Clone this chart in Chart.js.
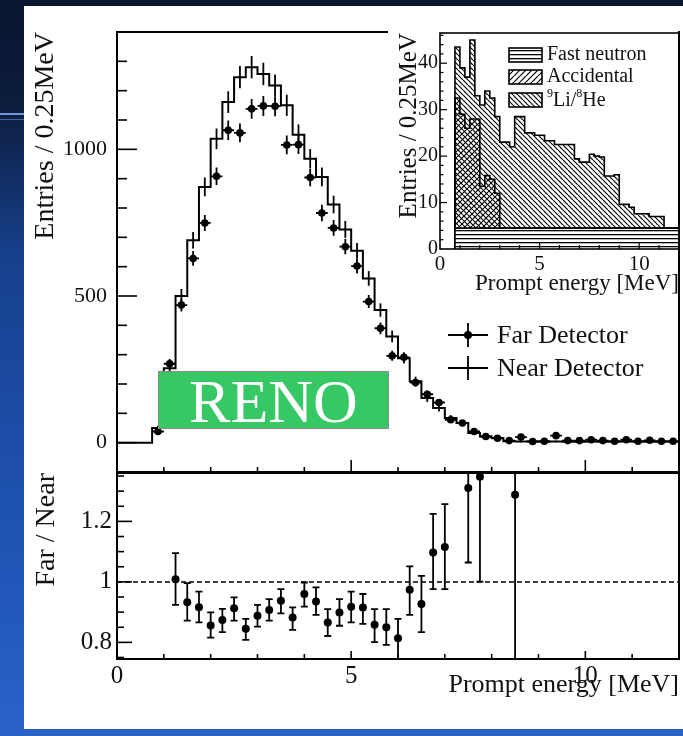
<!DOCTYPE html>
<html>
<head>
<meta charset="utf-8">
<script src="https://cdn.jsdelivr.net/npm/chart.js@4"></script>
<style>
  html, body { margin: 0; padding: 0; }
  body {
    width: 683px; height: 736px; position: relative; overflow: hidden;
    background: linear-gradient(180deg, #0a1530 0px, #0c1c3c 100px, #17418e 260px, #1f52b2 520px, #2a62c8 736px);
  }
  #panel { position: absolute; left: 24px; top: 6px; width: 659px; height: 723px; background: #fff; }
  .deco { position: absolute; left: 0; width: 24px; background: #6f96d8; }
  canvas { position: absolute; }
  #cMain { left: 0; top: 0; }
  #cRatio { left: 0; top: 440px; }
  #cInset { left: 388px; top: 10px; }
  #reno {
    position: absolute; left: 158px; top: 371px; width: 231px; height: 58px;
    background: #37c866; border: 1px solid #8c8c8c; box-sizing: border-box;
    color: #fff; font: 62px "Liberation Serif", "Times New Roman", serif;
    text-align: center; line-height: 58px;
  }
</style>
</head>
<body>
<div class="deco" style="top:113px;height:2px"></div>
<div class="deco" style="top:119px;height:1px;opacity:0.6"></div>
<div id="panel"></div>
<canvas id="cMain" width="683" height="510"></canvas>
<canvas id="cRatio" width="683" height="296"></canvas>
<canvas id="cInset" width="295" height="290"></canvas>
<div id="reno">RENO</div>
<script>
// ---- data ----
// prompt energy bin centres [MeV], 0.25 MeV bins
const binCenters = [0.875, 1.125, 1.375, 1.625, 1.875, 2.125, 2.375, 2.625, 2.875, 3.125,
  3.375, 3.625, 3.875, 4.125, 4.375, 4.625, 4.875, 5.125, 5.375, 5.625,
  5.875, 6.125, 6.375, 6.625, 6.875, 7.125, 7.375, 7.625, 7.875, 8.125,
  8.375, 8.625, 8.875, 9.125, 9.375, 9.625, 9.875, 10.125, 10.375, 10.625,
  10.875, 11.125, 11.375, 11.625, 11.875];

const farCounts = [38, 269, 469, 628, 749, 908, 1065, 1056, 1138, 1148,
  1147, 1015, 1016, 904, 783, 732, 668, 602, 481, 390,
  296, 291, 205, 165, 137, 78, 67, 38, 21, 15,
  7, 19, 4, 5, 24, 7, 7, 10, 7, 5,
  10, 5, 8, 5, 5];
const farErr = [6, 16, 22, 25, 27, 30, 33, 32, 34, 34,
  34, 32, 32, 30, 28, 27, 26, 25, 22, 20,
  17, 17, 14, 13, 12, 9, 8, 6, 5, 4,
  3, 4, 2, 2, 5, 3, 3, 3, 3, 2,
  3, 2, 3, 2, 2];

const nearCounts = [50, 254, 500, 690, 872, 1036, 1161, 1246, 1280, 1257,
  1218, 1150, 1050, 968, 906, 812, 727, 654, 560, 452,
  362, 288, 209, 152, 118, 84, 67, 33, 21, 16,
  5, 4, 4, 3, 4, 3, 3, 4, 3, 3,
  4, 3, 3, 3, 3];
const nearErr = [8, 17, 24, 28, 32, 35, 37, 38, 38, 38,
  37, 36, 35, 33, 32, 30, 29, 27, 25, 23,
  20, 18, 16, 13, 12, 10, 9, 7, 6, 5,
  3, 3, 3, 3, 3, 3, 3, 3, 3, 3,
  3, 3, 3, 3, 3];

// Far / Near ratio
const ratioCenters = [1.25, 1.5, 1.75, 2, 2.25, 2.5, 2.75, 3, 3.25, 3.5,
  3.75, 4, 4.25, 4.5, 4.75, 5, 5.25, 5.5, 5.75, 6,
  6.25, 6.5, 6.75, 7, 7.25, 7.5, 7.75, 8, 8.25, 8.5];
const ratioValues = [1.009, 0.933, 0.916, 0.856, 0.874, 0.913, 0.845, 0.888, 0.907, 0.938,
  0.882, 0.960, 0.935, 0.866, 0.899, 0.918, 0.915, 0.858, 0.850, 0.814,
  0.974, 0.927, 1.097, 1.115, null, 1.31, 1.348, null, null, 1.288];
const ratioErrUp = [0.086, 0.063, 0.052, 0.043, 0.037, 0.036, 0.033, 0.036, 0.036, 0.038,
  0.034, 0.038, 0.047, 0.044, 0.044, 0.050, 0.045, 0.052, 0.060, 0.064,
  0.077, 0.093, 0.128, 0.142, null, 0.25, 0.25, null, null, 1.0];
const ratioErrDown = [0.085, 0.061, 0.050, 0.040, 0.040, 0.041, 0.037, 0.036, 0.035, 0.042,
  0.041, 0.042, 0.044, 0.045, 0.044, 0.052, 0.054, 0.057, 0.058, 0.075,
  0.083, 0.093, 0.121, 0.139, null, 0.246, 0.347, null, null, 1.0];

// inset: backgrounds, stacked
const fastNeutron = [4.5, 4.5, 4.5, 4.5, 4.5, 4.5, 4.5, 4.5, 4.5, 4.5,
  4.5, 4.5, 4.5, 4.5, 4.5, 4.5, 4.5, 4.5, 4.5, 4.5,
  4.5, 4.5, 4.5, 4.5, 4.5, 4.5, 4.5, 4.5, 4.5, 4.5,
  4.5, 4.5, 4.5, 4.5, 4.5, 4.5, 4.5, 4.5, 4.5, 4.5,
  4.5, 4.5, 4.5, 4.5, 4.5];
const accidental = [28, 24.5, 21.5, 23.5, 23.5, 9, 11.3, 10.5, 7.5, 0,
  0, 0, 0, 0, 0, 0, 0, 0, 0, 0,
  0, 0, 0, 0, 0, 0, 0, 0, 0, 0,
  0, 0, 0, 0, 0, 0, 0, 0, 0, 0,
  0, 0, 0, 0, 0];
const liHe = [11, 10, 11, 17, 5, 17.5, 18.2, 17.5, 16.5, 18.5,
  18.5, 17.5, 24, 24, 20.5, 20.5, 20, 20, 18.8, 18.8,
  18, 18, 18, 18, 14.9, 14.2, 14.2, 15.9, 15.5, 15.3,
  11.2, 11.2, 11.5, 5.1, 5.1, 4.5, 3.1, 3.1, 3.1, 2.5,
  2.5, 2.5, 0, 0, 0];

// tick labels
const mainYTicks = [0, 500, 1000];
const ratioYTicks = [0.8, 1, 1.2];
const energyTicks = [0, 5, 10];
const insetYTicks = [0, 10, 20, 30, 40];

// ---- helpers ----
const FONT = '"Liberation Serif", "Times New Roman", serif';
const HALF = 0.125;

// histogram outline through the bin edges; 'before' stepping = horizontal first
function stepLine(values, opts) {
  const pts = [];
  if (opts.fromAxis) pts.push({x: 0, y: 0});
  pts.push({x: binCenters[0] - HALF, y: 0});
  values.forEach((v, i) => pts.push({x: binCenters[i] - HALF, y: v}));
  const lastEdge = binCenters[binCenters.length - 1] + HALF;
  pts.push({x: lastEdge, y: values[values.length - 1]});
  if (opts.close) pts.push({x: lastEdge, y: 0});
  return pts;
}

function hatch(kind) {
  const c = document.createElement('canvas');
  const s = kind === 'h' ? 4 : (kind === 'f' ? 6 : 5);
  c.width = s; c.height = s;
  const g = c.getContext('2d');
  if (kind === 'h') {
    g.fillStyle = '#fff'; g.fillRect(0, 0, s, s);
    g.fillStyle = '#000'; g.fillRect(0, 0, s, 1.3);
  } else {
    g.strokeStyle = '#000'; g.lineWidth = 1.2;
    g.beginPath();
    for (let k = -s; k <= s; k += s) {
      if (kind === 'f') { g.moveTo(k, s); g.lineTo(k + s, 0); }
      else { g.moveTo(k, 0); g.lineTo(k + s, s); }
    }
    g.stroke();
  }
  return g.createPattern(c, 'repeat');
}
const patH = hatch('h'), patF = hatch('f'), patB = hatch('b');

const framePlugin = {
  id: 'frame',
  afterDatasetsDraw(chart, args, opts) {
    const {ctx, chartArea: a, scales} = chart;
    ctx.save();
    ctx.strokeStyle = '#000';
    (opts.ticks || []).forEach(t => {
      const s = scales[t.axis];
      ctx.lineWidth = opts.tlw || 1.5;
      const n0 = Math.ceil(t.from / t.step - 1e-6), n1 = Math.floor(t.to / t.step + 1e-6);
      for (let n = n0; n <= n1; n++) {
        const v = n * t.step;
        const r = v / t.major;
        const len = Math.abs(r - Math.round(r)) < 1e-6 ? t.majorLen : t.len;
        const p = s.getPixelForValue(v);
        ctx.beginPath();
        if (t.axis === 'y') { ctx.moveTo(a.left, p); ctx.lineTo(a.left + len, p); }
        else { ctx.moveTo(p, a.bottom); ctx.lineTo(p, a.bottom - len); }
        ctx.stroke();
      }
    });
    ctx.lineWidth = opts.lw || 2;
    ctx.strokeRect(a.left, a.top, a.right - a.left, a.bottom - a.top);
    ctx.restore();
  }
};

const errPlugin = {
  id: 'errbars',
  beforeDatasetsDraw(chart) {
    const {ctx, chartArea: a, scales: {x, y}} = chart;
    ctx.save();
    ctx.beginPath(); ctx.rect(a.left, a.top, a.right - a.left, a.bottom - a.top); ctx.clip();
    chart.data.datasets.forEach(ds => {
      if (!ds.err) return;
      ctx.strokeStyle = '#000'; ctx.lineWidth = ds.err.lw || 1.5;
      ds.data.forEach(p => {
        if (p.y == null) return;
        const px = x.getPixelForValue(p.x), py = y.getPixelForValue(p.y);
        const top = y.getPixelForValue(p.y + p.eUp), bot = y.getPixelForValue(p.y - p.eDn);
        ctx.beginPath();
        ctx.moveTo(px, top); ctx.lineTo(px, bot);
        if (ds.err.xHalf) {
          ctx.moveTo(x.getPixelForValue(p.x - ds.err.xHalf), py);
          ctx.lineTo(x.getPixelForValue(p.x + ds.err.xHalf), py);
        }
        if (ds.err.cap) {
          const c = ds.err.cap;
          ctx.moveTo(px - c, top); ctx.lineTo(px + c, top);
          ctx.moveTo(px - c, bot); ctx.lineTo(px + c, bot);
        }
        ctx.stroke();
      });
    });
    ctx.restore();
  }
};

const mainLegend = {
  id: 'mainLegend',
  afterDraw(chart) {
    const ctx = chart.ctx;
    ctx.save();
    ctx.strokeStyle = '#000'; ctx.fillStyle = '#000'; ctx.lineWidth = 1.8;
    [[335, true], [368, false]].forEach(([yy, dot]) => {
      ctx.beginPath();
      ctx.moveTo(448, yy); ctx.lineTo(488, yy);
      ctx.moveTo(468, yy - 12); ctx.lineTo(468, yy + 12);
      ctx.stroke();
      if (dot) { ctx.beginPath(); ctx.arc(468, yy, 4, 0, Math.PI * 2); ctx.fill(); }
    });
    ctx.font = '26px ' + FONT;
    ctx.textBaseline = 'middle';
    ctx.fillStyle = '#111';
    ctx.fillText('Far Detector', 497, 336);
    ctx.fillText('Near Detector', 497, 369);
    ctx.restore();
  }
};

const insetBg = {
  id: 'insetBg',
  beforeDraw(chart) {
    const ctx = chart.ctx;
    ctx.save(); ctx.fillStyle = '#fff'; ctx.fillRect(0, 0, 290, chart.height); ctx.restore();
  },
  afterDraw(chart) {
    const ctx = chart.ctx;
    ctx.save();
    const rows = [[patH, 48], [patF, 70], [patB, 93]];
    rows.forEach(([p, top]) => {
      ctx.fillStyle = '#fff'; ctx.fillRect(121, top - 10, 33, 14);
      ctx.fillStyle = p; ctx.fillRect(121, top - 10, 33, 14);
      ctx.strokeStyle = '#000'; ctx.lineWidth = 1.6; ctx.strokeRect(121, top - 10, 33, 14);
    });
    ctx.fillStyle = '#111'; ctx.textBaseline = 'middle';
    ctx.font = '20px ' + FONT;
    ctx.fillText('Fast neutron', 159, 45);
    ctx.fillText('Accidental', 159, 67);
    let xx = 159;
    ctx.font = '12px ' + FONT; ctx.fillText('9', xx, 84); xx += ctx.measureText('9').width;
    ctx.font = '20px ' + FONT; ctx.fillText('Li/', xx, 91); xx += ctx.measureText('Li/').width;
    ctx.font = '12px ' + FONT; ctx.fillText('8', xx, 84); xx += ctx.measureText('8').width;
    ctx.font = '20px ' + FONT; ctx.fillText('He', xx, 91);
    ctx.restore();
  }
};

function axisCommon(extra) {
  return Object.assign({
    type: 'linear',
    grid: {display: false, drawTicks: false},
    border: {display: false},
  }, extra);
}
const fixTicks = list => s => { s.ticks = list.map(v => ({value: v})); };

// ---- upper panel ----
new Chart(document.getElementById('cMain'), {
  type: 'scatter',
  data: {
    datasets: [
      {
        label: 'Near Detector', data: stepLine(nearCounts, {fromAxis: true, close: false}),
        showLine: true, stepped: 'before', borderColor: '#000', borderWidth: 2, pointRadius: 0
      },
      {
        label: 'Near errors',
        data: binCenters.map((c, i) => ({x: c, y: nearCounts[i], eUp: nearErr[i], eDn: nearErr[i]})),
        pointRadius: 0, err: {lw: 1.8}
      },
      {
        label: 'Far Detector',
        data: binCenters.map((c, i) => ({x: c, y: farCounts[i], eUp: farErr[i], eDn: farErr[i]})),
        pointRadius: 3.8, pointBackgroundColor: '#000', pointBorderColor: '#000', borderWidth: 0,
        err: {lw: 1.8, xHalf: HALF}
      }
    ]
  },
  options: {
    responsive: false, animation: false,
    layout: {padding: {top: 32, right: 3, bottom: 38, left: 0}},
    plugins: {
      legend: {display: false}, tooltip: {enabled: false},
      frame: {lw: 2, tlw: 1.6, ticks: [
        {axis: 'y', from: 0, to: 1300, step: 100, major: 500, len: 10, majorLen: 20},
        {axis: 'x', from: 1, to: 11, step: 1, major: 5, len: 5, majorLen: 12}
      ]}
    },
    scales: {
      x: axisCommon({min: 0, max: 12, display: false}),
      y: axisCommon({
        min: -100, max: 1400,
        afterFit: s => { s.width = 117; },
        afterBuildTicks: fixTicks(mainYTicks),
        ticks: {padding: 10, color: '#111', font: {family: FONT, size: 22}, callback: v => String(v)},
        title: {display: true, text: 'Entries / 0.25MeV', align: 'end', color: '#111',
          font: {family: FONT, size: 28}, padding: {top: 29, bottom: 0}}
      })
    }
  },
  plugins: [errPlugin, framePlugin, mainLegend]
});

// ---- ratio panel ----
new Chart(document.getElementById('cRatio'), {
  type: 'scatter',
  data: {
    datasets: [
      {
        label: 'unity', data: [{x: 0, y: 1}, {x: 12, y: 1}],
        showLine: true, borderColor: '#000', borderWidth: 1.5, borderDash: [5, 3], pointRadius: 0
      },
      {
        label: 'Far / Near',
        data: ratioCenters.map((c, i) => ({x: c, y: ratioValues[i], eUp: ratioErrUp[i], eDn: ratioErrDown[i]})),
        pointRadius: 4, pointBackgroundColor: '#000', pointBorderColor: '#000', borderWidth: 0,
        err: {lw: 1.8, cap: 3.5}
      }
    ]
  },
  options: {
    responsive: false, animation: false,
    layout: {padding: {top: 33, right: 3, bottom: 35, left: 0}},
    plugins: {
      legend: {display: false}, tooltip: {enabled: false},
      frame: {lw: 2, tlw: 1.6, ticks: [
        {axis: 'y', from: 0.75, to: 1.35, step: 0.05, major: 0.2, len: 7, majorLen: 15},
        {axis: 'x', from: 1, to: 11, step: 1, major: 5, len: 5, majorLen: 8}
      ]}
    },
    scales: {
      x: axisCommon({
        min: 0, max: 12,
        afterFit: s => { s.height = 42; },
        afterBuildTicks: fixTicks(energyTicks),
        ticks: {padding: 2, maxRotation: 0, autoSkip: false, color: '#111', font: {family: FONT, size: 25}, callback: v => String(v)},
        title: {display: true, text: 'Prompt energy [MeV]', align: 'end', color: '#111',
          font: {family: FONT, size: 26}, padding: {top: 0, bottom: 0}}
      }),
      y: axisCommon({
        min: 0.745, max: 1.36,
        afterFit: s => { s.width = 117; },
        afterBuildTicks: fixTicks(ratioYTicks),
        ticks: {padding: 5, color: '#111', font: {family: FONT, size: 25}, callback: v => String(v)},
        title: {display: true, text: 'Far / Near', align: 'end', color: '#111',
          font: {family: FONT, size: 28}, padding: {top: 30, bottom: 0}}
      })
    }
  },
  plugins: [errPlugin, framePlugin]
});

// ---- inset ----
const accTotal = fastNeutron.map((v, i) => v + accidental[i]);
const liTotal = accTotal.map((v, i) => v + liHe[i]);
const insetStep = v => stepLine(v, {fromAxis: false, close: true});

new Chart(document.getElementById('cInset'), {
  type: 'scatter',
  data: {
    datasets: [
      {label: '9Li/8He', data: insetStep(liTotal), showLine: true, stepped: 'before', fill: 'origin',
        backgroundColor: patB, borderColor: '#000', borderWidth: 1.6, pointRadius: 0, order: 3},
      {label: 'Accidental', data: insetStep(accTotal), showLine: true, stepped: 'before', fill: 'origin',
        backgroundColor: patF, borderColor: '#000', borderWidth: 1.6, pointRadius: 0, order: 2},
      {label: 'Fast neutron', data: insetStep(fastNeutron), showLine: true, stepped: 'before', fill: 'origin',
        backgroundColor: patH, borderColor: '#000', borderWidth: 1.6, pointRadius: 0, order: 1}
    ]
  },
  options: {
    responsive: false, animation: false,
    layout: {padding: {top: 23, right: 4, bottom: 1, left: 0}},
    plugins: {
      legend: {display: false}, tooltip: {enabled: false},
      frame: {lw: 1.6, tlw: 1.2, ticks: [
        {axis: 'y', from: 2, to: 46, step: 2, major: 10, len: 3.5, majorLen: 7},
        {axis: 'x', from: 1, to: 11, step: 1, major: 5, len: 4, majorLen: 7}
      ]}
    },
    scales: {
      x: axisCommon({
        min: 0, max: 12,
        afterFit: s => { s.height = 50; },
        afterBuildTicks: fixTicks(energyTicks),
        ticks: {padding: 3, maxRotation: 0, autoSkip: false, color: '#111', font: {family: FONT, size: 21}, callback: v => String(v)},
        title: {display: true, text: 'Prompt energy [MeV]', align: 'end', color: '#111',
          font: {family: FONT, size: 23}, padding: {top: 0, bottom: 1}}
      }),
      y: axisCommon({
        min: 0, max: 46.5,
        afterFit: s => { s.width = 52; },
        afterBuildTicks: fixTicks(insetYTicks),
        ticks: {padding: 2, color: '#111', font: {family: FONT, size: 20}, callback: v => String(v)},
        title: {display: true, text: 'Entries / 0.25MeV', align: 'end', color: '#111',
          font: {family: FONT, size: 25}, padding: {top: 6, bottom: 0}}
      })
    }
  },
  plugins: [insetBg, framePlugin]
});
</script>
</body>
</html>
